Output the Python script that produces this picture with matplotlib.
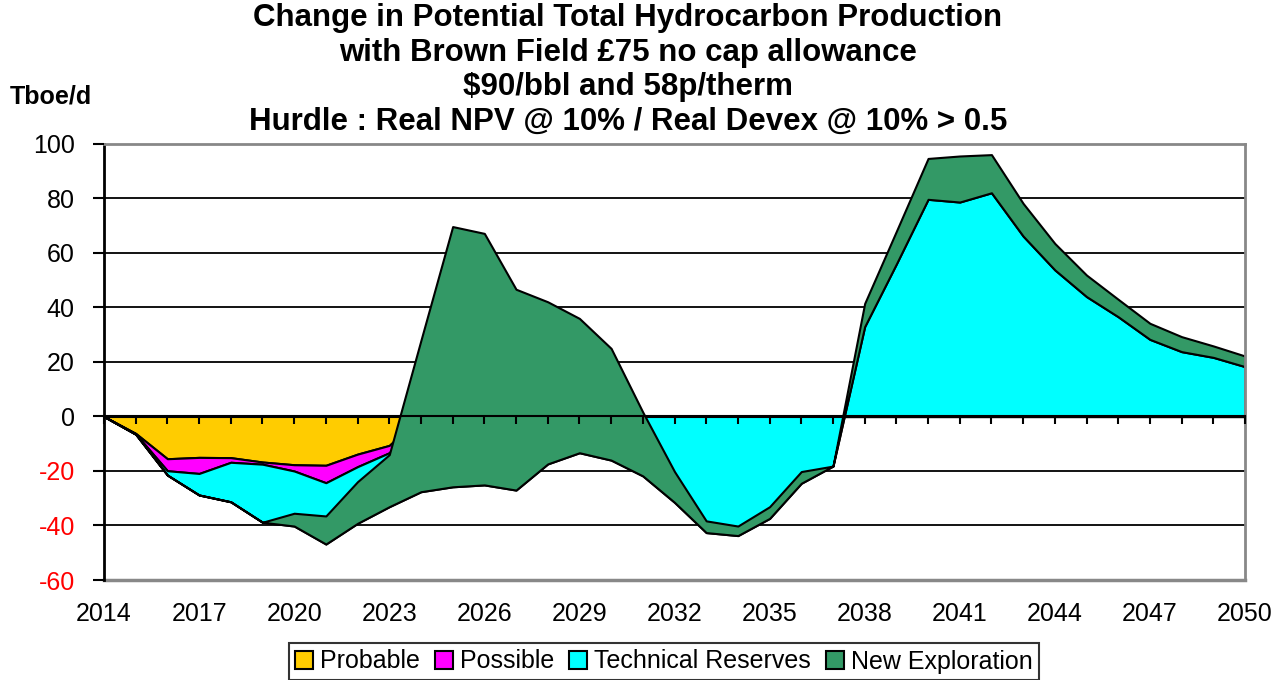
import numpy as np
import matplotlib.pyplot as plt

plt.rcParams['font.family'] = ['Liberation Sans', 'DejaVu Sans']
plt.rcParams['axes.unicode_minus'] = False

years = list(range(2014, 2051))
probable = [0, -6.2, -15.5, -15.0, -15.1, -16.7, -17.7, -17.9, -13.8, -10.6] + [0] * 27
possible = [0, -0.2, -4.4, -5.9, -1.7, -0.8, -2.3, -6.4, -4.6, -2.7] + [0] * 27
technical = [0, -0.1, -1.6, -7.9, -14.5, -21.3, -20.2, -22.5, -20.8, -19.8,
             -27.6, -25.8, -25.1, -27.0, -17.4, -13.3, -16.0, -21.8, -31.5, -42.6,
             -43.7, -37.4, -24.5, -18.2, 33.0, 56.0, 79.7, 78.7, 82.1, 66.2,
             53.8, 44.0, 36.6, 28.3, 23.8, 21.7, 18.3]
exploration = [0, 0, 0, 0, 0, 0, 4.7, 10.3, 15.3, 19.1,
               55.6, 95.5, 92.3, 73.7, 59.5, 49.3, 41.0, 23.4, 11.3, 4.3,
               3.5, 4.3, 4.3, 0, 8.5, 12.0, 15.0, 16.9, 14.0, 12.0,
               9.7, 7.9, 6.4, 5.9, 5.5, 4.2, 3.9]
names = ["Probable", "Possible", "Technical Reserves", "New Exploration"]
colors = ["#FFCC00", "#FF00FF", "#00FFFF", "#339966"]
title = ["Change in Potential Total Hydrocarbon Production",
         "with Brown Field £75 no cap allowance",
         "$90/bbl and 58p/therm",
         "Hurdle : Real NPV @ 10% / Real Devex @ 10% > 0.5"]

fig = plt.figure(figsize=(12.87, 6.80), dpi=100)
ax = fig.add_axes([104/1287, 1-580/680, (1245-104)/1287, (580-144)/680])
ax.set_axisbelow(False)

for y in range(-40, 100, 20):
    if y != 0:
        ax.axhline(y, color="black", lw=1.3, zorder=0)

ax.stackplot(years, probable, possible, technical, exploration,
             colors=colors, labels=names, edgecolor="black", linewidth=1.5, zorder=2)

ax.set_xlim(2014, 2050)
ax.set_ylim(-60, 100)
ax.set_yticks(range(-60, 101, 20))
ax.tick_params(axis='y', direction='out', length=8, width=1.5, labelsize=18, pad=13)
for lab in ax.get_yticklabels():
    if float(lab.get_text()) < 0:
        lab.set_color("red")

for s in ["top", "right"]:
    ax.spines[s].set_color("#888888")
    ax.spines[s].set_linewidth(2)
ax.spines["left"].set_linewidth(2)
ax.spines["bottom"].set_position(("data", 0))
ax.spines["bottom"].set_linewidth(1.5)
ax.axhline(-60, color="#888888", lw=2.5, clip_on=False)

ax.set_xticks(years)
ax.tick_params(axis='x', direction='out', length=6, width=1.5, labelbottom=False)
sec = ax.secondary_xaxis(0)
sec.set_xticks(years[::3])
sec.tick_params(length=0, labelsize=18, pad=16)
sec.spines["bottom"].set_visible(False)

for i, line in enumerate(title):
    fig.text(628/1287, 1 - (18 + 34.5*i)/680, line, ha="center", va="center",
             fontsize=22.5, fontweight="bold")
fig.text(10/1287, 1 - 97/680, "Tboe/d", ha="left", va="center", fontsize=18, fontweight="bold")

leg = fig.legend(loc="center", bbox_to_anchor=(664/1287, 1 - 661.5/680), ncol=4,
                 fontsize=18, frameon=True, fancybox=False, edgecolor="black",
                 handlelength=0.7, handleheight=0.7, handletextpad=0.3,
                 columnspacing=0.6, borderpad=0.25)
leg.get_frame().set_linewidth(1.5)

fig.savefig("out.png", dpi=100)
